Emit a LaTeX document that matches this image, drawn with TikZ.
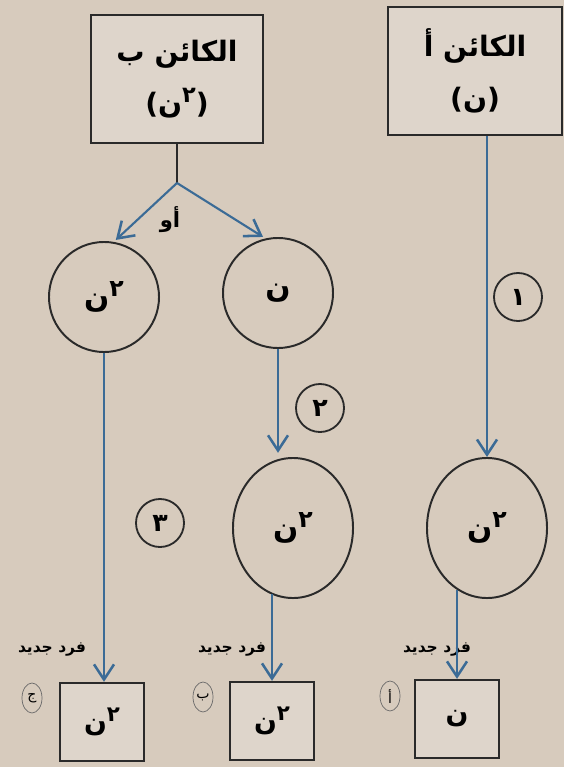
\documentclass[tikz,border=0pt]{standalone}
\usepackage{fontspec}
\usepackage{graphicx}
\usetikzlibrary{arrows.meta,shapes,positioning}
\newfontfamily\arabicfont[Script=Arabic,BoldFont={DejaVu Sans Bold}]{DejaVu Sans}
\newfontfamily\plainfont[BoldFont={DejaVu Sans Bold}]{DejaVu Sans}
\TeXXeTstate=1
\definecolor{paper}{HTML}{D7CBBD}
\definecolor{boxfill}{HTML}{DED5CB}
\definecolor{ink}{HTML}{2A2A2A}
\definecolor{flowblue}{HTML}{3B6B96}
\newcommand{\nsq}{ن\raisebox{.38em}{\scalebox{.8}{٢}}}
\newcommand{\lp}{{\plainfont\bfseries(}}
\newcommand{\rp}{{\plainfont\bfseries)}}

\begin{document}
\begin{tikzpicture}[x=0.025cm,y=-0.025cm,
    organism/.style={draw=ink,line width=1.6pt,fill=boxfill,minimum width=4.3cm,minimum height=3.2cm,
        align=center,font=\arabicfont\bfseries\fontsize{20}{37}\selectfont},
    state/.style={circle,draw=ink,line width=1.4pt,minimum size=2.75cm,font=\arabicfont\bfseries\fontsize{21}{25}\selectfont},
    statebig/.style={ellipse,draw=ink,line width=1.4pt,minimum width=3cm,minimum height=3.5cm,font=\arabicfont\bfseries\fontsize{21}{25}\selectfont},
    child/.style={draw=ink,line width=1.6pt,fill=boxfill,minimum width=2.1cm,minimum height=1.95cm,font=\arabicfont\bfseries\fontsize{19}{23}\selectfont},
    stepno/.style={circle,draw=ink,line width=1.3pt,minimum size=1.2cm,inner sep=0pt,font=\arabicfont\bfseries\fontsize{18}{20}\selectfont},
    tag/.style={ellipse,draw=ink!70,line width=.5pt,minimum width=.5cm,minimum height=.75cm,inner sep=0pt,font=\arabicfont\fontsize{10}{12}\selectfont},
    newlbl/.style={font=\arabicfont\bfseries\fontsize{11}{13}\selectfont,inner sep=1pt},
    flow/.style={draw=flowblue,line width=1.5pt,-{Straight Barb[length=3.8mm,width=5mm,line width=1.8pt]}},
    link/.style={draw=ink,line width=1.4pt}]

  \fill[paper] (0,0) rectangle (564,767);
  \useasboundingbox (0,0) rectangle (564,767);

  % the two parents
  \node[organism] (orgB) at (177,79) {\beginR الكائن ب\endR\\\lp\nsq\rp};
  \node[organism,minimum width=4.35cm] (orgA) at (475,71) {\beginR الكائن أ\endR\\\lp ن\rp};

  % circles
  \node[state] (cnnB) at (104,297) {\nsq};
  \node[state] (cnB) at (278,293) {ن};
  \node[statebig] (cB) at (293,528) {\nsq};
  \node[statebig] (cA) at (487,528) {\nsq};

  % offspring
  \node[child] (newC) at (102,722) {\nsq};
  \node[child] (newB) at (272,721) {\nsq};
  \node[child] (newA) at (457,719) {ن};

  % steps
  \node[stepno] (s1) at (518,297) {١};
  \node[stepno] (s2) at (320,408) {٢};
  \node[stepno] (s3) at (160,523) {٣};

  \node[tag] (tC) at (32,698) {ج};
  \node[tag] (tB) at (203,697) {ب};
  \node[tag] (tA) at (390,696) {أ};

  \node[newlbl] (lC) at (52,650) {\beginR فرد جديد\endR};
  \node[newlbl] (lB) at (232,650) {\beginR فرد جديد\endR};
  \node[newlbl] (lA) at (437,650) {\beginR فرد جديد\endR};

  % connectors
  \draw[flow] (cA.north |- orgA.south) -- (cA.north);
  \draw[flow] (newA.north |- cA.-116) -- (newA.north);

  \coordinate (fork) at (177,183);
  \draw[link] (orgB.south) -- (fork);
  \draw[flow,shorten >=2pt] (fork) -- (cnnB.80);
  \draw[flow,shorten >=2pt] (fork) -- (cnB.103);
  \node[font=\arabicfont\bfseries\fontsize{15}{18}\selectfont] (or) at (170,220) {\beginR أو\endR};

  \draw[flow,shorten >=3pt] (cnB.south) -- (cnB.south |- cB.north);
  \draw[flow] (newB.north |- cB.-108) -- (newB.north);
  \draw[flow] (cnnB.south) -- (cnnB.south |- newC.north);
\end{tikzpicture}
\end{document}
